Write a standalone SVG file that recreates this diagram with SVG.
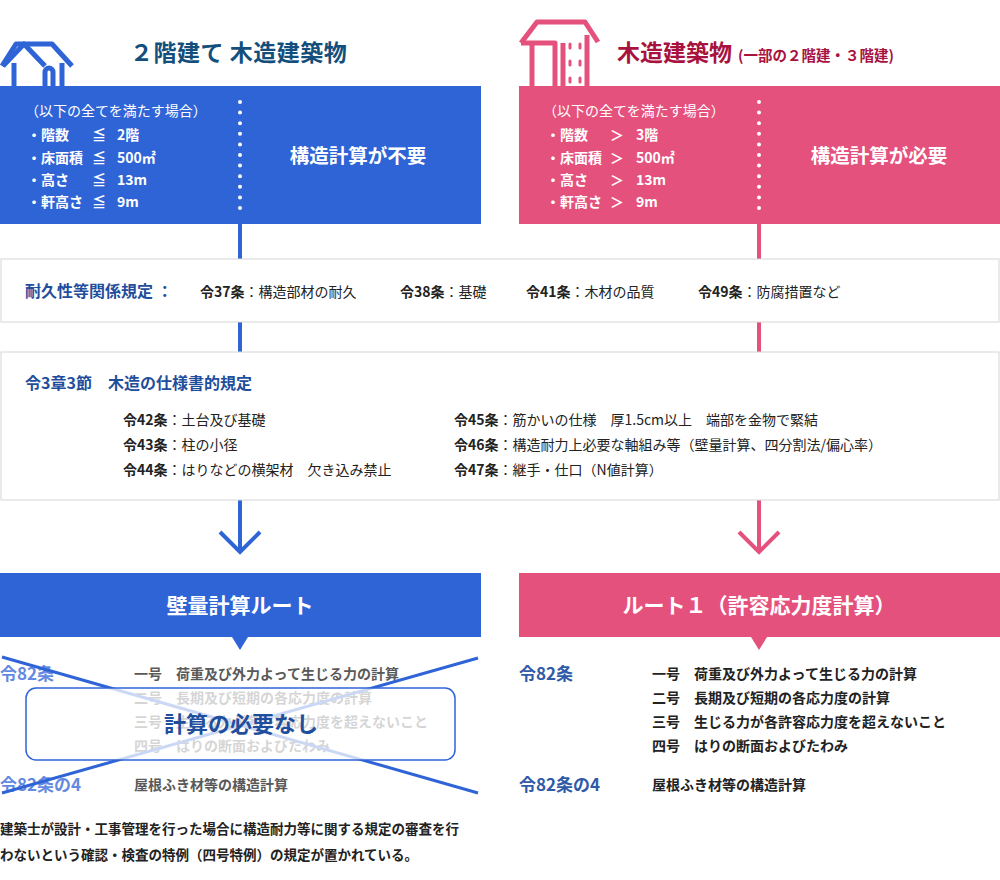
<svg xmlns="http://www.w3.org/2000/svg" width="1000" height="880" viewBox="0 0 1000 880">
<style>
text{font-family:"Noto Sans CJK JP","Noto Sans",sans-serif;}
.w{fill:#fff;font-size:14px}
.wb{fill:#fff;font-size:14px;font-weight:bold}
.big{fill:#fff;font-size:19.5px;font-weight:bold}
.rt{fill:#fff;font-size:21px;font-weight:bold}
.k{fill:#222;font-size:14px}
.kb{fill:#222;font-size:14px;font-weight:bold}
.bl{fill:#1f4e9c;font-size:16px;font-weight:bold}
.panel{fill:#fff;stroke:#d6d6d6;stroke-width:1}
.dot{stroke:#fff;stroke-width:4;stroke-linecap:round;stroke-dasharray:0 10.6}
</style>
<g id="connectors" fill="none">
<line x1="240" y1="224" x2="240" y2="552" stroke="#2f64d6" stroke-width="4"/>
<polyline points="220,532 240,552 260,532" stroke="#2f64d6" stroke-width="4"/>
<line x1="759" y1="224" x2="759" y2="552" stroke="#e5517d" stroke-width="4"/>
<polyline points="739,532 759,552 779,532" stroke="#e5517d" stroke-width="4"/>
</g>
<g id="house-blue" fill="none" stroke="#2f64d6" stroke-width="5" stroke-linejoin="round">
<polyline points="2,66 16,44 52,44 72,66"/>
<polyline points="3,66 24,44 45,66"/>
<line x1="14" y1="63" x2="14" y2="86"/>
<line x1="62" y1="63" x2="62" y2="86"/>
<path d="M45,86 V72 a4,4 0 0 1 8,0 V86"/>
</g>
<g id="house-pink" fill="none" stroke="#e5517d" stroke-width="5" stroke-linejoin="round">
<polyline points="521,43 537,22 585,22 598,42"/>
<polyline points="521,43 555,43 555,86"/>
<line x1="532" y1="43" x2="532" y2="86"/>
<line x1="587" y1="35" x2="587" y2="86"/>
<line x1="563" y1="43" x2="563" y2="86"/>
<g stroke-width="3" stroke-linecap="round">
<line x1="570" y1="44" x2="570" y2="48"/><line x1="580" y1="44" x2="580" y2="48"/>
<line x1="570" y1="61" x2="570" y2="65"/><line x1="580" y1="61" x2="580" y2="65"/>
<line x1="570" y1="78" x2="570" y2="82"/><line x1="580" y1="78" x2="580" y2="82"/>
</g>
</g>
<text x="130" y="61" style="font-size:23px;font-weight:bold;fill:#134f7c;letter-spacing:0.5px">２階建て 木造建築物</text>
<text x="617" y="61" style="font-size:23px;font-weight:bold;fill:#a8123e">木造建築物<tspan style="font-size:14.5px" dx="6">(一部の２階建・３階建)</tspan></text>
<g id="cond-blue">
<rect x="0" y="86" width="481" height="138" fill="#2f64d6"/>
<line x1="240" y1="102" x2="240" y2="212" class="dot"/>
<text x="25" y="116" class="w">（以下の全てを満たす場合）</text>
<text x="27" y="140" class="wb">・階数</text><text x="92" y="140" class="wb">≦</text><text x="117" y="140" class="wb">2階</text>
<text x="27" y="163" class="wb">・床面積</text><text x="92" y="163" class="wb">≦</text><text x="117" y="163" class="wb">500㎡</text>
<text x="27" y="185" class="wb">・高さ</text><text x="92" y="185" class="wb">≦</text><text x="117" y="185" class="wb">13m</text>
<text x="27" y="207" class="wb">・軒高さ</text><text x="92" y="207" class="wb">≦</text><text x="117" y="207" class="wb">9m</text>
<text x="358" y="163" class="big" text-anchor="middle">構造計算が不要</text>
</g>
<g id="cond-pink">
<rect x="519" y="86" width="481" height="138" fill="#e5517d"/>
<line x1="759" y1="102" x2="759" y2="212" class="dot"/>
<text x="543" y="116" class="w">（以下の全てを満たす場合）</text>
<text x="546" y="140" class="wb">・階数</text><text x="610" y="140" class="wb">＞</text><text x="636" y="140" class="wb">3階</text>
<text x="546" y="163" class="wb">・床面積</text><text x="610" y="163" class="wb">＞</text><text x="636" y="163" class="wb">500㎡</text>
<text x="546" y="185" class="wb">・高さ</text><text x="610" y="185" class="wb">＞</text><text x="636" y="185" class="wb">13m</text>
<text x="546" y="207" class="wb">・軒高さ</text><text x="610" y="207" class="wb">＞</text><text x="636" y="207" class="wb">9m</text>
<text x="879" y="163" class="big" text-anchor="middle">構造計算が必要</text>
</g>
<g id="durability">
<rect x="1" y="259" width="998" height="63" class="panel"/>
<text x="25" y="297" class="bl">耐久性等関係規定 ：</text>
<text x="200" y="297" class="k"><tspan style="font-weight:bold">令37条</tspan>：構造部材の耐久</text>
<text x="400" y="297" class="k"><tspan style="font-weight:bold">令38条</tspan>：基礎</text>
<text x="526" y="297" class="k"><tspan style="font-weight:bold">令41条</tspan>：木材の品質</text>
<text x="698" y="297" class="k"><tspan style="font-weight:bold">令49条</tspan>：防腐措置など</text>
</g>
<g id="spec">
<rect x="1" y="352" width="998" height="148" class="panel"/>
<text x="25" y="389" class="bl">令3章3節　木造の仕様書的規定</text>
<text x="123" y="425" class="k"><tspan style="font-weight:bold">令42条</tspan>：土台及び基礎</text>
<text x="123" y="450" class="k"><tspan style="font-weight:bold">令43条</tspan>：柱の小径</text>
<text x="123" y="475" class="k"><tspan style="font-weight:bold">令44条</tspan>：はりなどの横架材　欠き込み禁止</text>
<text x="454" y="425" class="k"><tspan style="font-weight:bold">令45条</tspan>：筋かいの仕様　厚1.5cm以上　端部を金物で緊結</text>
<text x="454" y="450" class="k"><tspan style="font-weight:bold">令46条</tspan>：構造耐力上必要な軸組み等（壁量計算、四分割法/偏心率）</text>
<text x="454" y="475" class="k"><tspan style="font-weight:bold">令47条</tspan>：継手・仕口（N値計算）</text>
</g>
<g id="route-wall">
<rect x="0" y="573" width="481" height="64" fill="#2f64d6"/>
<polygon points="232,637 248,637 240,650" fill="#2f64d6"/>
<text x="240" y="613" class="rt" text-anchor="middle">壁量計算ルート</text>
<g opacity="0.75">
<text x="0" y="680" style="font-size:17px;font-weight:bold;fill:#2f64d6">令82条</text>
<text x="134" y="679" class="kb">一号　荷重及び外力よって生じる力の計算</text>
<text x="134" y="703" class="kb">二号　長期及び短期の各応力度の計算</text>
<text x="134" y="727" class="kb">三号　生じる力が各許容応力度を超えないこと</text>
<text x="134" y="751" class="kb">四号　はりの断面およびたわみ</text>
<text x="0" y="791" style="font-size:17px;font-weight:bold;fill:#2f64d6">令82条の4</text>
<text x="134" y="790" class="kb">屋根ふき材等の構造計算</text>
</g>
<line x1="2" y1="657" x2="478" y2="793" stroke="#2f64d6" stroke-width="3"/>
<line x1="2" y1="793" x2="478" y2="658" stroke="#2f64d6" stroke-width="3"/>
<rect x="26" y="688" width="429" height="72" rx="10" fill="#fff" fill-opacity="0.75" stroke="#2f64d6" stroke-width="1.5"/>
<text x="241" y="732" text-anchor="middle" style="font-size:22px;font-weight:bold;fill:#1f4e9c">計算の必要なし</text>
</g>
<g id="route-1">
<rect x="519" y="573" width="481" height="64" fill="#e5517d"/>
<polygon points="751,637 767,637 759,650" fill="#e5517d"/>
<text x="759" y="613" class="rt" text-anchor="middle">ルート１（許容応力度計算）</text>
<text x="519" y="680" style="font-size:17px;font-weight:bold;fill:#2f5aa8">令82条</text>
<text x="652" y="679" class="kb">一号　荷重及び外力よって生じる力の計算</text>
<text x="652" y="703" class="kb">二号　長期及び短期の各応力度の計算</text>
<text x="652" y="727" class="kb">三号　生じる力が各許容応力度を超えないこと</text>
<text x="652" y="751" class="kb">四号　はりの断面およびたわみ</text>
<text x="519" y="791" style="font-size:17px;font-weight:bold;fill:#2f5aa8">令82条の4</text>
<text x="652" y="790" class="kb">屋根ふき材等の構造計算</text>
</g>
<g id="note">
<text x="0" y="834" class="kb" style="font-size:13.5px">建築士が設計・工事管理を行った場合に構造耐力等に関する規定の審査を行</text>
<text x="0" y="860" class="kb" style="font-size:13.5px">わないという確認・検査の特例（四号特例）の規定が置かれている。</text>
</g>
</svg>
